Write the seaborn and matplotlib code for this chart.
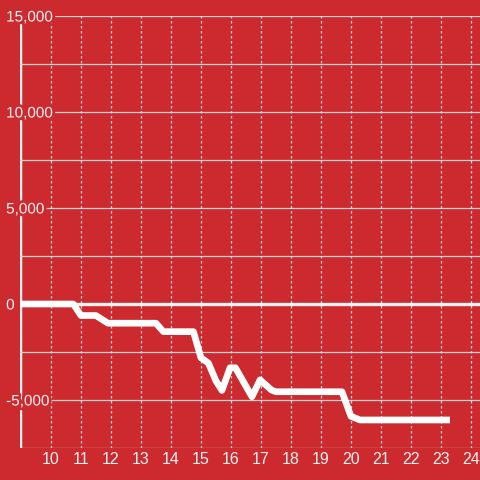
import numpy as np
import matplotlib
matplotlib.use("Agg")
import matplotlib.pyplot as plt
import matplotlib.patheffects as pe
import seaborn as sns

# data
x_vals = [9.0, 10.75, 11.0, 11.5, 11.9, 13.5, 13.75, 14.75, 15.0, 15.25, 15.5,
          15.7, 15.97, 16.15, 16.7, 16.97, 17.35, 17.5, 19.7, 20.0, 20.3, 23.3]
y_vals = [0, 0, -600, -600, -1000, -1000, -1440, -1440, -2800, -3080, -4000,
          -4500, -3320, -3320, -4830, -3950, -4480, -4570, -4570, -5850, -6040, -6040]

x_ticks = list(range(10, 25))
y_major = [-5000, 0, 5000, 10000, 15000]
y_labels = ["-5,000", "0", "5,000", "10,000", "15,000"]
y_minor = [-7500, -2500, 2500, 7500, 12500]

bg = "#cc2a2e"
fg = "#f2f2f2"
grid_c = "#d2d2d2"

sns.set_style("white")
plt.rcParams["font.family"] = ["Liberation Sans", "DejaVu Sans"]

fig = plt.figure(figsize=(4.8, 4.8), dpi=100, facecolor=bg)
ax = fig.add_axes([20 / 480, 32 / 480, 460 / 480, 432 / 480])
ax.set_facecolor(bg)
ax.set_axisbelow(True)

# grid
ax.set_xticks(x_ticks)
ax.set_yticks(y_major)
ax.set_yticklabels(y_labels)
ax.set_yticks(y_minor, minor=True)
ax.grid(axis="x", which="major", color=grid_c, linewidth=0.9, linestyle=(0, (2, 2)))
ax.grid(axis="y", which="both", color=grid_c, linewidth=0.9, linestyle="-")

# left "spine" below the tick labels so the label halo cuts it
for s in ax.spines.values():
    s.set_visible(False)
ax.axvline(8.97, color=fg, linewidth=3.2, zorder=0.4)
ax.axhline(0, color=fg, linewidth=2.4, zorder=1)

sns.lineplot(x=x_vals, y=y_vals, ax=ax, color="white", linewidth=4.8,
             zorder=3, solid_capstyle="butt")

ax.set_xlim(8.97, 24.3)
ax.set_ylim(-7500, 15000)
ax.set_xlabel("")
ax.set_ylabel("")

ax.tick_params(axis="both", which="both", length=0, colors=fg)
ax.tick_params(axis="x", pad=3, labelsize=11.5)
ax.tick_params(axis="y", pad=10, labelsize=11)
for lbl in ax.get_yticklabels():
    lbl.set_horizontalalignment("left")
    lbl.set_path_effects([pe.withStroke(linewidth=4, foreground=bg)])

fig.savefig("out.png", dpi=100, facecolor=bg)
